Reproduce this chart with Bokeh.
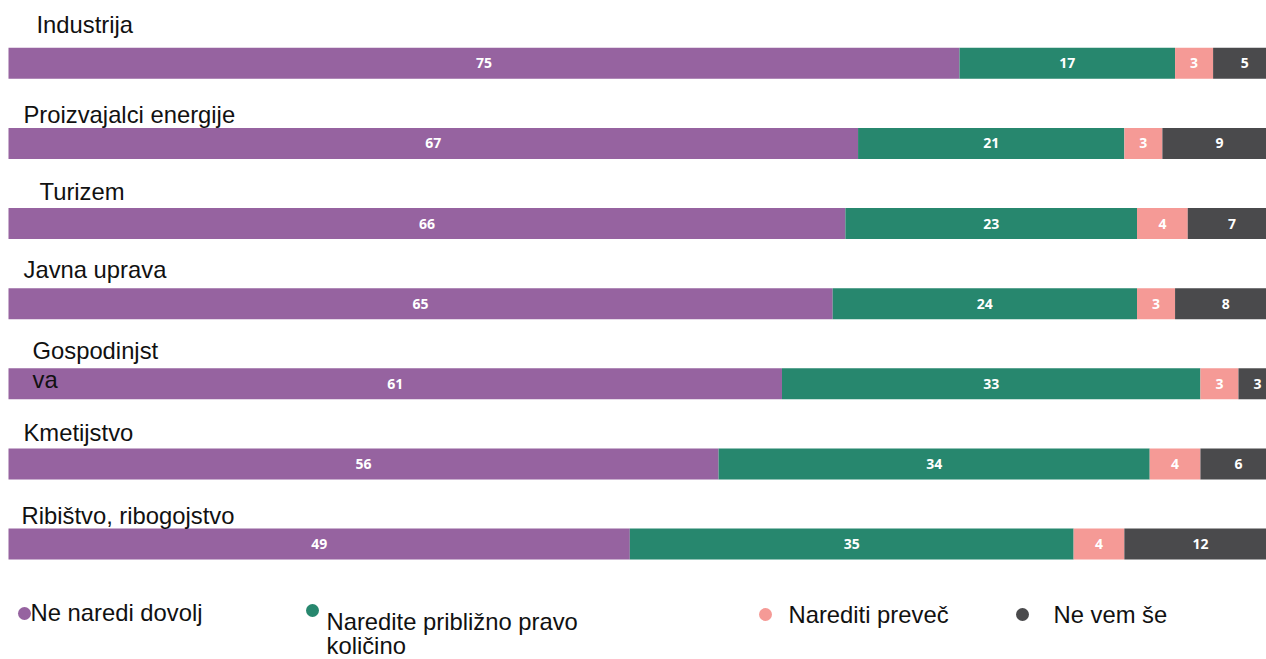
import numpy as np
from bokeh.plotting import figure
from bokeh.models import ColumnDataSource, Range1d
from bokeh.core.properties import value
from bokeh.embed import file_html
from bokeh.resources import INLINE

# ---------------- data ----------------
categories = ["Industrija", "Proizvajalci energije", "Turizem", "Javna uprava",
              "Gospodinjst\nva", "Kmetijstvo", "Ribištvo, ribogojstvo"]
series_names = ["Ne naredi dovolj", "Naredite približno pravo\nkoličino",
                "Narediti preveč", "Ne vem še"]
not_enough = [75, 67, 66, 65, 61, 56, 49]
about_right = [17, 21, 23, 24, 33, 34, 35]
too_much = [3, 3, 4, 3, 3, 4, 4]
dont_know = [5, 9, 7, 8, 3, 6, 12]
series_values = [not_enough, about_right, too_much, dont_know]
colors = ["#9663A0", "#27876E", "#F59A96", "#4A4A4C"]

# ---------------- layout (pixels) ----------------
W, H = 1266, 659
px_per_unit = 12.68          # horizontal pixels per percentage point
origin_x = 8                 # pixel where 0 % lies
row_pitch = 80.13            # vertical distance between bars
first_center = 62.75         # first bar centre from the top
bar_px = 31
label_dx = [28, 15, 31, 15, 24, 15, 13]                 # label left offset from bar start
label_dy = [-38.5, -29, -32, -34, -33.5, -31.5, -28.5]  # label middle relative to bar centre
label_line_px = 29
legend_marker_px = [(24, 613), (312, 610), (765, 614), (1022, 614)]
legend_text_px = [(30, 612), (326, 621), (788, 614), (1053, 614)]
legend_line_px = 23.5
font_px = "23.8px"


def to_x(px):
    return (px - origin_x) / px_per_unit


def to_y(py):
    return (py - first_center) / row_pitch


rows = np.arange(len(categories))

p = figure(width=W, height=H, output_backend="svg", toolbar_location=None,
           x_range=Range1d(to_x(0), to_x(W)),
           y_range=Range1d(to_y(H), to_y(0)),
           x_axis_location=None, y_axis_location=None, min_border=0,
           outline_line_color=None, background_fill_color="white")
p.grid.visible = False

# stacked bars with value labels
left = np.zeros(len(categories))
for vals, col in zip(series_values, colors):
    vals = np.array(vals, dtype=float)
    right = left + vals
    src = ColumnDataSource(dict(y=rows, left=left, right=right,
                                mid=(left + right) / 2,
                                txt=[str(int(v)) for v in vals]))
    p.hbar(y="y", left="left", right="right", height=bar_px / row_pitch,
           source=src, fill_color=col, line_color=None)
    p.text(x="mid", y="y", text="txt", source=src, text_color="white",
           text_font=value("Open Sans"), text_font_style="bold",
           text_font_size="14px", text_align="center", text_baseline="middle")
    left = right

# category labels above bars (wrapped lines drawn one below the other)
lx, ly, lt, lxo, lyo = [], [], [], [], []
for r, name, dx, dy in zip(rows, categories, label_dx, label_dy):
    for k, line in enumerate(name.split("\n")):
        lx.append(0.0)
        ly.append(r)
        lt.append(line)
        lxo.append(dx)
        lyo.append(dy + k * label_line_px)
p.text(x="x", y="y", text="text", x_offset="xo", y_offset="yo",
       source=ColumnDataSource(dict(x=lx, y=ly, text=lt, xo=lxo, yo=lyo)),
       text_color="#111111", text_font=value("Liberation Sans"),
       text_font_size=font_px, text_align="left", text_baseline="middle")

# legend
p.scatter(x=[to_x(m[0]) for m in legend_marker_px],
          y=[to_y(m[1]) for m in legend_marker_px],
          size=13, marker="circle", fill_color=colors, line_color=None)
gx, gy, gt = [], [], []
for (tx, ty), name in zip(legend_text_px, series_names):
    for k, line in enumerate(name.split("\n")):
        gx.append(to_x(tx))
        gy.append(to_y(ty + k * legend_line_px))
        gt.append(line)
p.text(x=gx, y=gy, text=gt, text_color="#111111",
       text_font=value("Liberation Sans"), text_font_size=font_px,
       text_align="left", text_baseline="middle")

open("out.html", "w").write(file_html(p, INLINE))
